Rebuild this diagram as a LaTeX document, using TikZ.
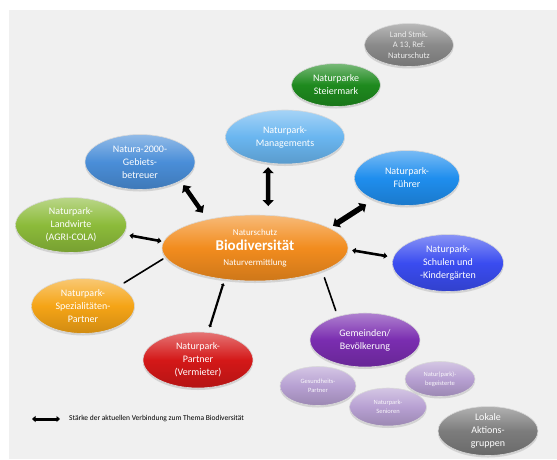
\documentclass[tikz,border=0pt]{standalone}
\usepackage{fontspec}
\setmainfont{Carlito}
\usetikzlibrary{shapes.geometric,arrows.meta,shadows}
\definecolor{bgc}{HTML}{F0F0F0}
\definecolor{cOra}{HTML}{F28C1E}
\definecolor{cGry}{HTML}{8A8A8A}
\definecolor{cGrn}{HTML}{1E8A1E}
\definecolor{cLbl}{HTML}{6AB6F0}
\definecolor{cBlu}{HTML}{4A8ED8}
\definecolor{cFhr}{HTML}{1F8EEE}
\definecolor{cLnd}{HTML}{8CBB3A}
\definecolor{cSch}{HTML}{3A4CF0}
\definecolor{cSpz}{HTML}{F5A416}
\definecolor{cRed}{HTML}{D41818}
\definecolor{cPur}{HTML}{7A2DB0}
\definecolor{cLil}{HTML}{B7A0D2}
\begin{document}
\begin{tikzpicture}[x=1pt,y=-1pt,line cap=round,font=\fontsize{10}{13}\selectfont]
\tikzset{bub/.style={ellipse,inner sep=0pt,align=center,text=white,draw=white!85!black,line width=.6pt,
    top color=#1!60!white,bottom color=#1!85!black,middle color=#1,
    drop shadow={opacity=.25,shadow xshift=0pt,shadow yshift=-2pt}},
  fat/.style={line width=4.5pt,{Triangle[width=11pt,length=6pt]}-{Triangle[width=11pt,length=6pt]}},
  mid/.style={line width=2.6pt,{Triangle[width=6pt,length=3.5pt]}-{Triangle[width=6pt,length=3.5pt]}},
  slim/.style={line width=1.6pt}}
\useasboundingbox (0,0) rectangle (557,459);
\fill[bgc] (9,10) rectangle (557,459);
% mittlere Ellipse
\node[bub=cOra,minimum width=186pt,minimum height=66pt,font=\fontsize{9}{15}\selectfont] (bio) at (255,248)
  {Naturschutz\\{\fontsize{15}{15}\selectfont\bfseries Biodiversität}\\Naturvermittlung};
% Partner rundherum
\node[bub=cGry,minimum width=89pt,minimum height=43pt,font=\fontsize{8.5}{10.5}\selectfont,text=white!92!black] (land) at (409,45) {Land Stmk.\\A 13, Ref.\\Naturschutz};
\node[bub=cGrn,minimum width=89pt,minimum height=43pt] (stmk) at (336,85) {Naturparke\\Steiermark};
\node[bub=cLbl,minimum width=119pt,minimum height=54pt] (mgmt) at (285,137) {Naturpark-\\Managements};
\node[bub=cBlu,minimum width=110pt,minimum height=55pt] (nat) at (140,162) {Natura-2000-\\Gebiets-\\betreuer};
\node[bub=cFhr,minimum width=105pt,minimum height=55pt] (fhr) at (407,178) {Naturpark-\\Führer};
\node[bub=cLnd,minimum width=111pt,minimum height=55pt] (lw) at (71,225) {Naturpark-\\Landwirte\\(AGRI-COLA)};
\node[bub=cSch,minimum width=111pt,minimum height=57pt] (sch) at (448,263) {Naturpark-\\Schulen und\\-Kindergärten};
\node[bub=cSpz,minimum width=103pt,minimum height=55pt] (spz) at (83,306) {Naturpark-\\Spezialitäten-\\Partner};
\node[bub=cRed,minimum width=110pt,minimum height=56pt] (ptn) at (198,360) {Naturpark-\\Partner\\(Vermieter)};
\node[bub=cPur,minimum width=110pt,minimum height=54pt] (gem) at (365,340) {Gemeinden/\\Bevölkerung};
\foreach \n/\x/\y/\w/\h/\t in {ges/318/386/76/39/{Gesundheits-\\Partner},sen/388/407/77/38/{Naturpark-\\Senioren},
    beg/440/379/70/35/{Natur(park)-\\begeisterte}}
  \node[bub=cLil,minimum width=\w pt,minimum height=\h pt,font=\fontsize{6.5}{8.5}\selectfont,text=white!90!cLil] (\n) at (\x,\y) {\t};
\node[bub=cGry!90!black,minimum width=100pt,minimum height=49pt] (lag) at (488,431) {Lokale\\Aktions-\\gruppen};
% Verbindungen
\draw[fat,shorten <=5pt,shorten >=8pt] (nat.-25) -- (bio.149);
\draw[fat,shorten <=4pt,shorten >=9pt] (mgmt.-123) -- (bio.68);
\draw[fat,line width=5.5pt,shorten <=9pt,shorten >=4pt] (fhr.-147) -- (bio.15);
\draw[mid,shorten <=6pt,shorten >=2pt] (lw.-10) -- (bio.176);
\draw[mid,shorten <=6pt,shorten >=4pt] (sch.174) -- (bio.-1);
\draw[slim,shorten <=6pt,shorten >=3pt] (spz.29) -- (bio.186);
\draw[line width=2.2pt,{Triangle[width=4pt,length=2pt]}-{Triangle[width=4pt,length=2pt]},shorten <=5pt,shorten >=4pt] (ptn.70) -- (bio.-134);
\draw[slim,shorten <=6pt,shorten >=7pt] (gem.139) -- (bio.-19);
% Legende
\coordinate (la) at (32,419);
\coordinate (lb) at (60,419);
\draw[mid,line width=3pt] (la) -- (lb);
\node[anchor=west,font=\fontsize{7.5}{9}\selectfont,inner sep=0pt] (leg) at (69,419) {Stärke der aktuellen Verbindung zum Thema Biodiversität};
\end{tikzpicture}
\end{document}
